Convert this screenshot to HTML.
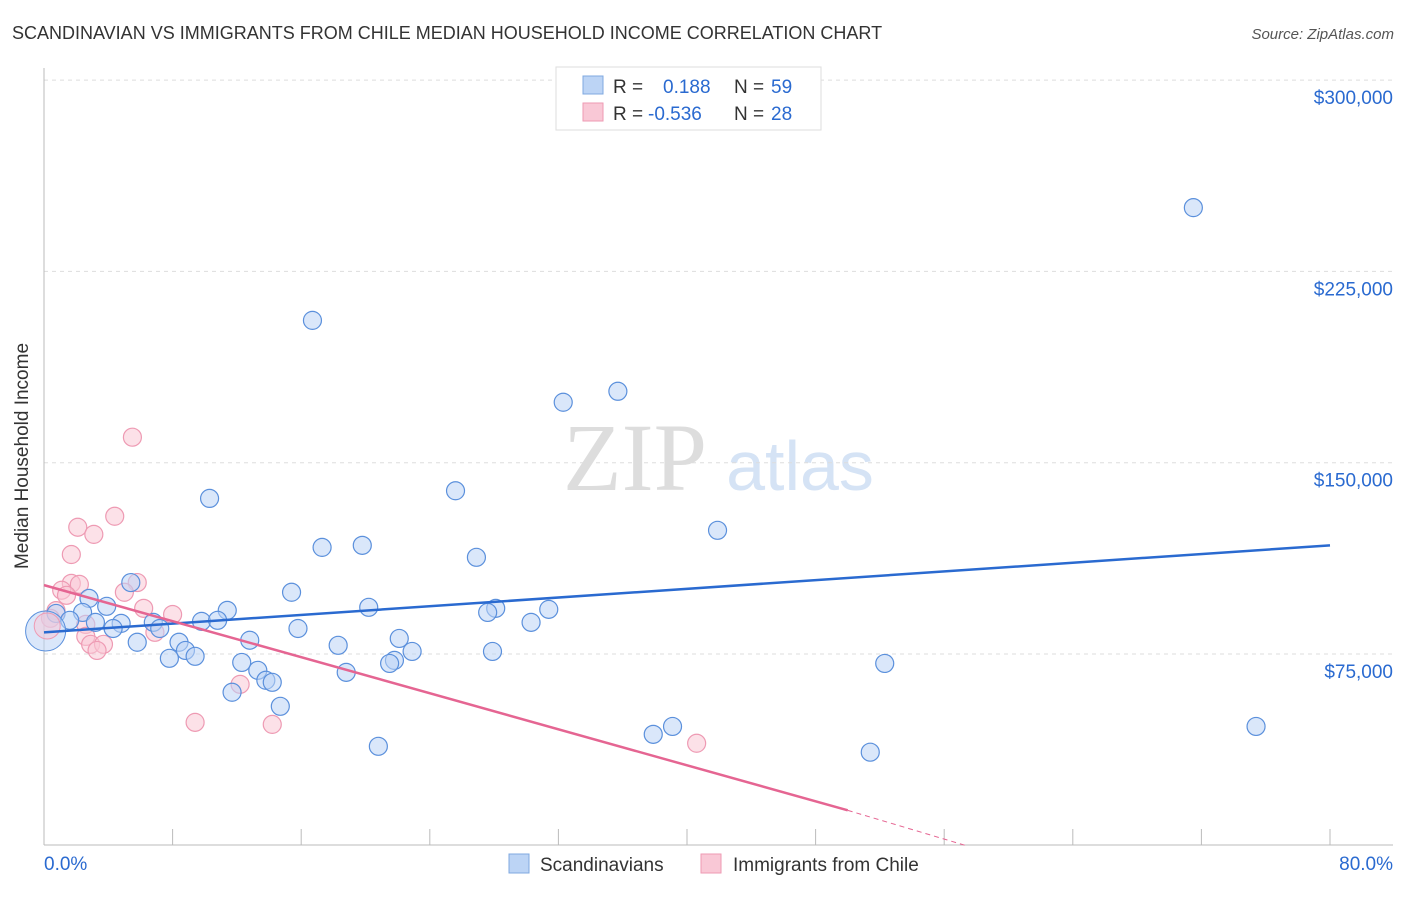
<!DOCTYPE html>
<html><head><meta charset="utf-8"><style>
body{margin:0;background:#fff;font-family:"Liberation Sans",sans-serif}
svg text{font-family:"Liberation Sans",sans-serif}
</style></head><body>
<svg id="c" width="1406" height="892" viewBox="0 0 1406 892" xmlns="http://www.w3.org/2000/svg">
<text x="12" y="39" font-size="18" fill="#333">SCANDINAVIAN VS IMMIGRANTS FROM CHILE MEDIAN HOUSEHOLD INCOME CORRELATION CHART</text>
<text x="1394" y="39" font-size="15" fill="#555" text-anchor="end" font-style="italic">Source: ZipAtlas.com</text>
<text x="28" y="456" font-size="19" fill="#333" text-anchor="middle" transform="rotate(-90 28 456)">Median Household Income</text>
<g><text x="635" y="490" font-size="96" fill="#ddd" text-anchor="middle" font-family="Liberation Serif" style="font-family:'Liberation Serif',serif">ZIP</text><text x="800" y="490" font-size="70" fill="#d5e3f5" text-anchor="middle">atlas</text></g>
<g id="grid"></g><g id="marks"></g><g id="trend"></g>
<g>
<rect x="556" y="67" width="265" height="63" fill="#fff" stroke="#ddd"/>
<rect x="583" y="76" width="20" height="18" fill="#bcd4f5" stroke="#7fa8e0"/>
<text x="613" y="93" font-size="19" fill="#333">R = </text><text x="663" y="93" font-size="19" fill="#2a6ad0">0.188</text>
<text x="734" y="93" font-size="19" fill="#333">N = </text><text x="771" y="93" font-size="19" fill="#2a6ad0">59</text>
<rect x="583" y="103" width="20" height="18" fill="#f9c8d6" stroke="#ee9ab3"/>
<text x="613" y="120" font-size="19" fill="#333">R = </text><text x="648" y="120" font-size="19" fill="#2a6ad0">-0.536</text>
<text x="734" y="120" font-size="19" fill="#333">N = </text><text x="771" y="120" font-size="19" fill="#2a6ad0">28</text>
</g>
<g>
<rect x="509" y="854" width="20" height="19" fill="#bcd4f5" stroke="#7fa8e0"/><text x="540" y="871" font-size="19" fill="#333">Scandinavians</text>
<rect x="701" y="854" width="20" height="19" fill="#f9c8d6" stroke="#ee9ab3"/><text x="733" y="871" font-size="19" fill="#333">Immigrants from Chile</text>
</g>
</svg>
<script>
const yTicks=[75,150,225,300];
const yTickLabels=["$75,000","$150,000","$225,000","$300,000"];
const xTickLabels=["0.0%","80.0%"];
const blueX=[16.7,71.5,32.3,35.7,25.6,10.3,41.9,17.3,19.8,26.9,5.4,15.4,2.8,3.9,20.2,11.4,28.1,27.6,31.4,0.75,2.4,1.6,3.2,4.8,6.8,9.8,10.8,30.3,4.3,7.2,15.8,5.8,8.4,12.8,18.3,22.1,8.8,22.9,27.9,7.8,9.4,12.3,21.8,21.5,52.3,13.3,18.8,13.8,14.2,11.7,14.7,39.1,75.4,37.9,20.8,51.4];
const blueY=[205.8,250,173.7,178,139,136,123.5,116.8,117.6,112.9,103,99.2,96.8,93.7,93.3,92.1,92.9,91.3,92.5,90.9,91.3,88.2,87.4,87,87.4,87.8,88.2,87.4,85,85,85,79.6,79.6,80.4,78.4,81.1,76.4,76,76,73.3,74.1,71.7,72.5,71.3,71.3,68.6,67.8,64.7,63.9,60,54.5,46.6,46.6,43.5,38.8,36.5];
const pinkX=[5.5,4.4,2.1,3.1,1.7,5.8,1.7,2.2,1.1,1.4,5.0,6.2,8.0,0.75,0.4,2.6,6.9,2.6,2.9,3.7,3.3,12.2,9.4,14.2,40.6];
const pinkY=[160,129,124.7,121.9,114,103,102.7,102.3,100,98,99.2,92.9,90.5,92,89,86.6,83.5,81.9,78.8,78.8,76.4,63.1,48.2,47.4,40];
const bigX=[0.1,0.2];const bigY=[84,86];
const blueTrendX=[0,80];const blueTrendY=[83.5,117.6];
const pinkTrendX=[0,50,57.3];const pinkTrendY=[102,13.7,0];
const X=v=>44+v/80*1286, Y=v=>845.3-v/75*191.3;
const ns="http://www.w3.org/2000/svg";
function mk(p,t,a){const e=document.createElementNS(ns,t);for(const k in a)e.setAttribute(k,a[k]);document.getElementById(p).appendChild(e);return e;}
yTicks.forEach((t,i)=>{
 let l=mk('grid','line',{x1:44,x2:1393,y1:Y(t),y2:Y(t),stroke:'#ddd','stroke-dasharray':'4,4'});
 
 
 let tx=mk('grid','text',{x:1393,y:Y(t)+24,'font-size':19,fill:'#2a6ad0','text-anchor':'end'});tx.textContent=yTickLabels[i];
 
 
});
let ax=mk('grid','line',{x1:44,x2:44,y1:68,y2:845,stroke:'#bbb'});


let bx=mk('grid','line',{x1:44,x2:1393,y1:845,y2:845,stroke:'#bbb'});


for(let i=0;i<=10;i++){let t=mk('grid','line',{x1:X(i*8),x2:X(i*8),y1:829,y2:845,stroke:'#bbb'});
 
 }
[[0,'start',44],[1,'end',1393]].forEach(([i,a,x])=>{let t=mk('grid','text',{x:x,y:870,'font-size':19,fill:'#2a6ad0','text-anchor':a});t.textContent=xTickLabels[i];
 
 });
function dots(xs,ys,f,s,name,r){xs.forEach((x,i)=>{let c=mk('marks','circle',{cx:X(x),cy:Y(ys[i]),r:r,fill:f,'fill-opacity':0.55,stroke:s,'stroke-width':1.2});
 
 });}
dots(pinkX,pinkY,'#f9c8d6','#ee9ab3','chile-point',9);
dots(blueX,blueY,'#bcd4f5','#5b90dc','scandinavian-point',9);
let b1=mk('marks','circle',{cx:X(bigX[0]),cy:Y(bigY[0]),r:20,fill:'#bcd4f5','fill-opacity':0.55,stroke:'#5b90dc'});


let b2=mk('marks','circle',{cx:X(bigX[1]),cy:Y(bigY[1]),r:13,fill:'#f9c8d6','fill-opacity':0.5,stroke:'#ee9ab3'});


let bl=mk('trend','line',{x1:X(blueTrendX[0]),y1:Y(blueTrendY[0]),x2:X(blueTrendX[1]),y2:Y(blueTrendY[1]),stroke:'#2a6ad0','stroke-width':2.5});


let pl=mk('trend','line',{x1:X(pinkTrendX[0]),y1:Y(pinkTrendY[0]),x2:X(pinkTrendX[1]),y2:Y(pinkTrendY[1]),stroke:'#e56592','stroke-width':2.5});


let pd=mk('trend','line',{x1:X(pinkTrendX[1]),y1:Y(pinkTrendY[1]),x2:X(pinkTrendX[2]),y2:Y(pinkTrendY[2]),stroke:'#e56592','stroke-width':1,'stroke-dasharray':'5,4'});


</script>
</body></html>
